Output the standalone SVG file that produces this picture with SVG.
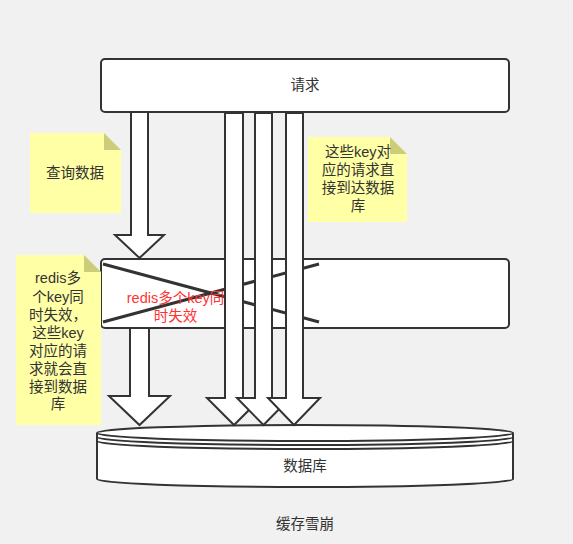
<svg xmlns="http://www.w3.org/2000/svg" width="573" height="544" viewBox="0 0 573 544">
  <style>
    .box { fill: #ffffff; stroke: #333333; stroke-width: 2; }
    .arrow { fill: #ffffff; stroke: #333333; stroke-width: 2; stroke-linejoin: miter; }
    .note { fill: #ffffa6; }
    .fold { fill: #cccc7a; }
    .t { font-family: "Liberation Sans", "Noto Sans CJK SC", sans-serif; font-size: 14.5px; fill: #333333; text-anchor: middle; dominant-baseline: central; }
    .red { fill: #ff3333; }
    .xline { stroke: #333333; stroke-width: 3; fill: none; }
  </style>
  <rect width="573" height="544" fill="#f1f1f1"/>

  <g id="request">
    <rect class="box" x="101" y="59" width="408" height="53" rx="4"/>
    <text class="t" x="305" y="85">请求</text>
  </g>

  <g id="cache">
    <rect class="box" x="101" y="259" width="408" height="69" rx="4"/>
    <line class="xline" x1="103" y1="264" x2="319" y2="322"/>
    <line class="xline" x1="103" y1="322" x2="319" y2="264"/>
    <text class="t red" x="175.5" y="298">redis多个key同</text>
    <text class="t red" x="175.5" y="316">时失效</text>
  </g>

  <g id="database">
    <path class="box" d="M97,433 A208,8 0 0 1 305,425 A208,8 0 0 1 513,433 L513,479 A208,8 0 0 1 305,487 A208,8 0 0 1 97,479 Z"/>
    <path class="box" fill="none" style="fill:none" d="M97,433 A208,8 0 0 0 305,441 A208,8 0 0 0 513,433 M97,437 A208,8 0 0 0 305,445 A208,8 0 0 0 513,437 M97,441 A208,8 0 0 0 305,449 A208,8 0 0 0 513,441"/>
    <text class="t" x="305" y="466">数据库</text>
  </g>

  <g id="note-query">
    <path class="note" d="M30,133 L104,133 L121,150 L121,213 L30,213 Z"/>
    <path class="fold" d="M104,133 L121,150 L104,150 Z"/>
    <text class="t" x="75" y="173">查询数据</text>
  </g>

  <g id="note-direct">
    <path class="note" d="M308,137 L390,137 L407,154 L407,222 L308,222 Z"/>
    <path class="fold" d="M390,137 L407,154 L390,154 Z"/>
    <text class="t" x="358" y="152">这些key对</text>
    <text class="t" x="358" y="170">应的请求直</text>
    <text class="t" x="358" y="188">接到达数据</text>
    <text class="t" x="358" y="206">库</text>
  </g>

  <g id="note-expire">
    <path class="note" d="M16,255 L84,255 L101,272 L101,425 L16,425 Z"/>
    <path class="fold" d="M84,255 L101,272 L84,272 Z"/>
    <text class="t" x="58" y="278">redis多</text>
    <text class="t" x="58" y="296.5">个key同</text>
    <text class="t" x="58" y="314.5">时失效，</text>
    <text class="t" x="58" y="333">这些key</text>
    <text class="t" x="58" y="350.5">对应的请</text>
    <text class="t" x="58" y="368.5">求就会直</text>
    <text class="t" x="58" y="386.5">接到数据</text>
    <text class="t" x="58" y="403.5">库</text>
  </g>

  <g id="connectors">
    <polygon class="arrow" points="131,112 148,112 148,235 164,235 139.5,258 115,235 131,235"/>
    <polygon class="arrow" points="130,328 149,328 149,396 170,396 139.5,425 109,396 130,396"/>
    <polygon class="arrow" points="225,113 243,113 243,398 261,398 234,425 207,398 225,398"/>
    <polygon class="arrow" points="255,113 272,113 272,398 290,398 263.5,425 237,398 255,398"/>
    <polygon class="arrow" points="286,113 303,113 303,398 320,398 294,425 268,398 286,398"/>
  </g>

  <text class="t" x="305" y="524">缓存雪崩</text>
</svg>
